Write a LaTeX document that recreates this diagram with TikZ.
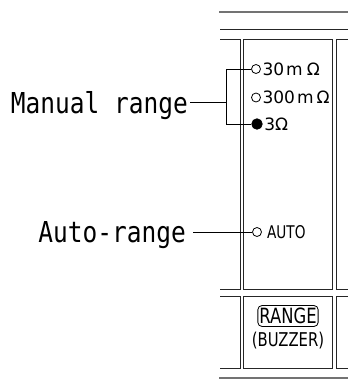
\documentclass[tikz,border=0pt]{standalone}
\usepackage{fontspec}
\newfontfamily\labelfont[FakeStretch=0.85]{DejaVu Sans Mono}
\newfontfamily\cellfont{DejaVu Sans}
\newfontfamily\narrowfont[FakeStretch=0.78]{DejaVu Sans}
\usetikzlibrary{positioning}

\begin{document}
\begin{tikzpicture}[
    x=1pt, y=-1pt,
    frame/.style={draw=black!85, line width=0.8pt},
    rule/.style={draw=black!55, line width=1.6pt},
    dot/.style={circle, draw, line width=0.8pt, inner sep=0pt, minimum size=9pt},
    fulldot/.style={dot, fill=black, minimum size=10.5pt},
    callout/.style={font=\labelfont\fontsize{28.8}{30}\selectfont, inner sep=0pt, text height=21pt, text depth=0pt},
    setting/.style={font=\cellfont\fontsize{17}{18}\selectfont, inner sep=0pt},
    keyname/.style={font=\narrowfont\fontsize{19}{20}\selectfont, inner sep=0pt},
    lead/.style={draw, line width=0.7pt}
]
\useasboundingbox (0,0) rectangle (348,389);

% panel rules
\draw[rule] (219,12) -- (348,12);
\draw[frame] (220,29) -- (348,29);
\draw[rule] (219,378) -- (348,378);

% cells
\foreach \ya/\yb in {39/289, 296/368} {
    \draw[frame] (220,\ya) -| (240.5,\yb) -- (220,\yb);
    \draw[frame] (243,\ya) rectangle (332.5,\yb);
    \draw[frame] (348,\ya) -| (336,\yb) -- (348,\yb);
}

% range settings
\node[dot] (c30) at (256,69) {};
\node[dot] (c300) at (256,97.5) {};
\node[fulldot] (c3) at (257,124) {};
\node[dot] (cauto) at (257,232) {};
\node[setting, right=1.5pt of c30] (t30) {30\hspace{2pt}m\hspace{4pt}Ω};
\node[setting, right=1.5pt of c300] (t300) {300\hspace{2pt}m\hspace{3pt}Ω};
\node[setting, right=1.5pt of c3] (t3) {3Ω};
\node[keyname, font=\narrowfont\fontsize{17.5}{18}\selectfont, right=5pt of cauto] (tauto) {AUTO};

% key
\node[keyname, draw, rounded corners=4pt, line width=0.8pt, inner xsep=1.5pt, inner ysep=2.5pt,
      font=\narrowfont\fontsize{21}{22}\selectfont] (rng) at (288,316) {RANGE};
\node[keyname, below=5pt of rng] (buz) {(BUZZER)};

% callouts
\node[callout, anchor=east] (manual) at (188,102.5) {Manual range};
\node[callout, anchor=east] (autorng) at (186,232) {Auto-range};

\draw[lead] (c30.west) -- ++(-25,0) coordinate (bk) |- (c3.west);
\draw[lead] ([xshift=2pt]manual.east) -- (bk |- manual.east);
\draw[lead] ([xshift=7pt]autorng.east) -- (cauto.west);
\end{tikzpicture}
\end{document}
